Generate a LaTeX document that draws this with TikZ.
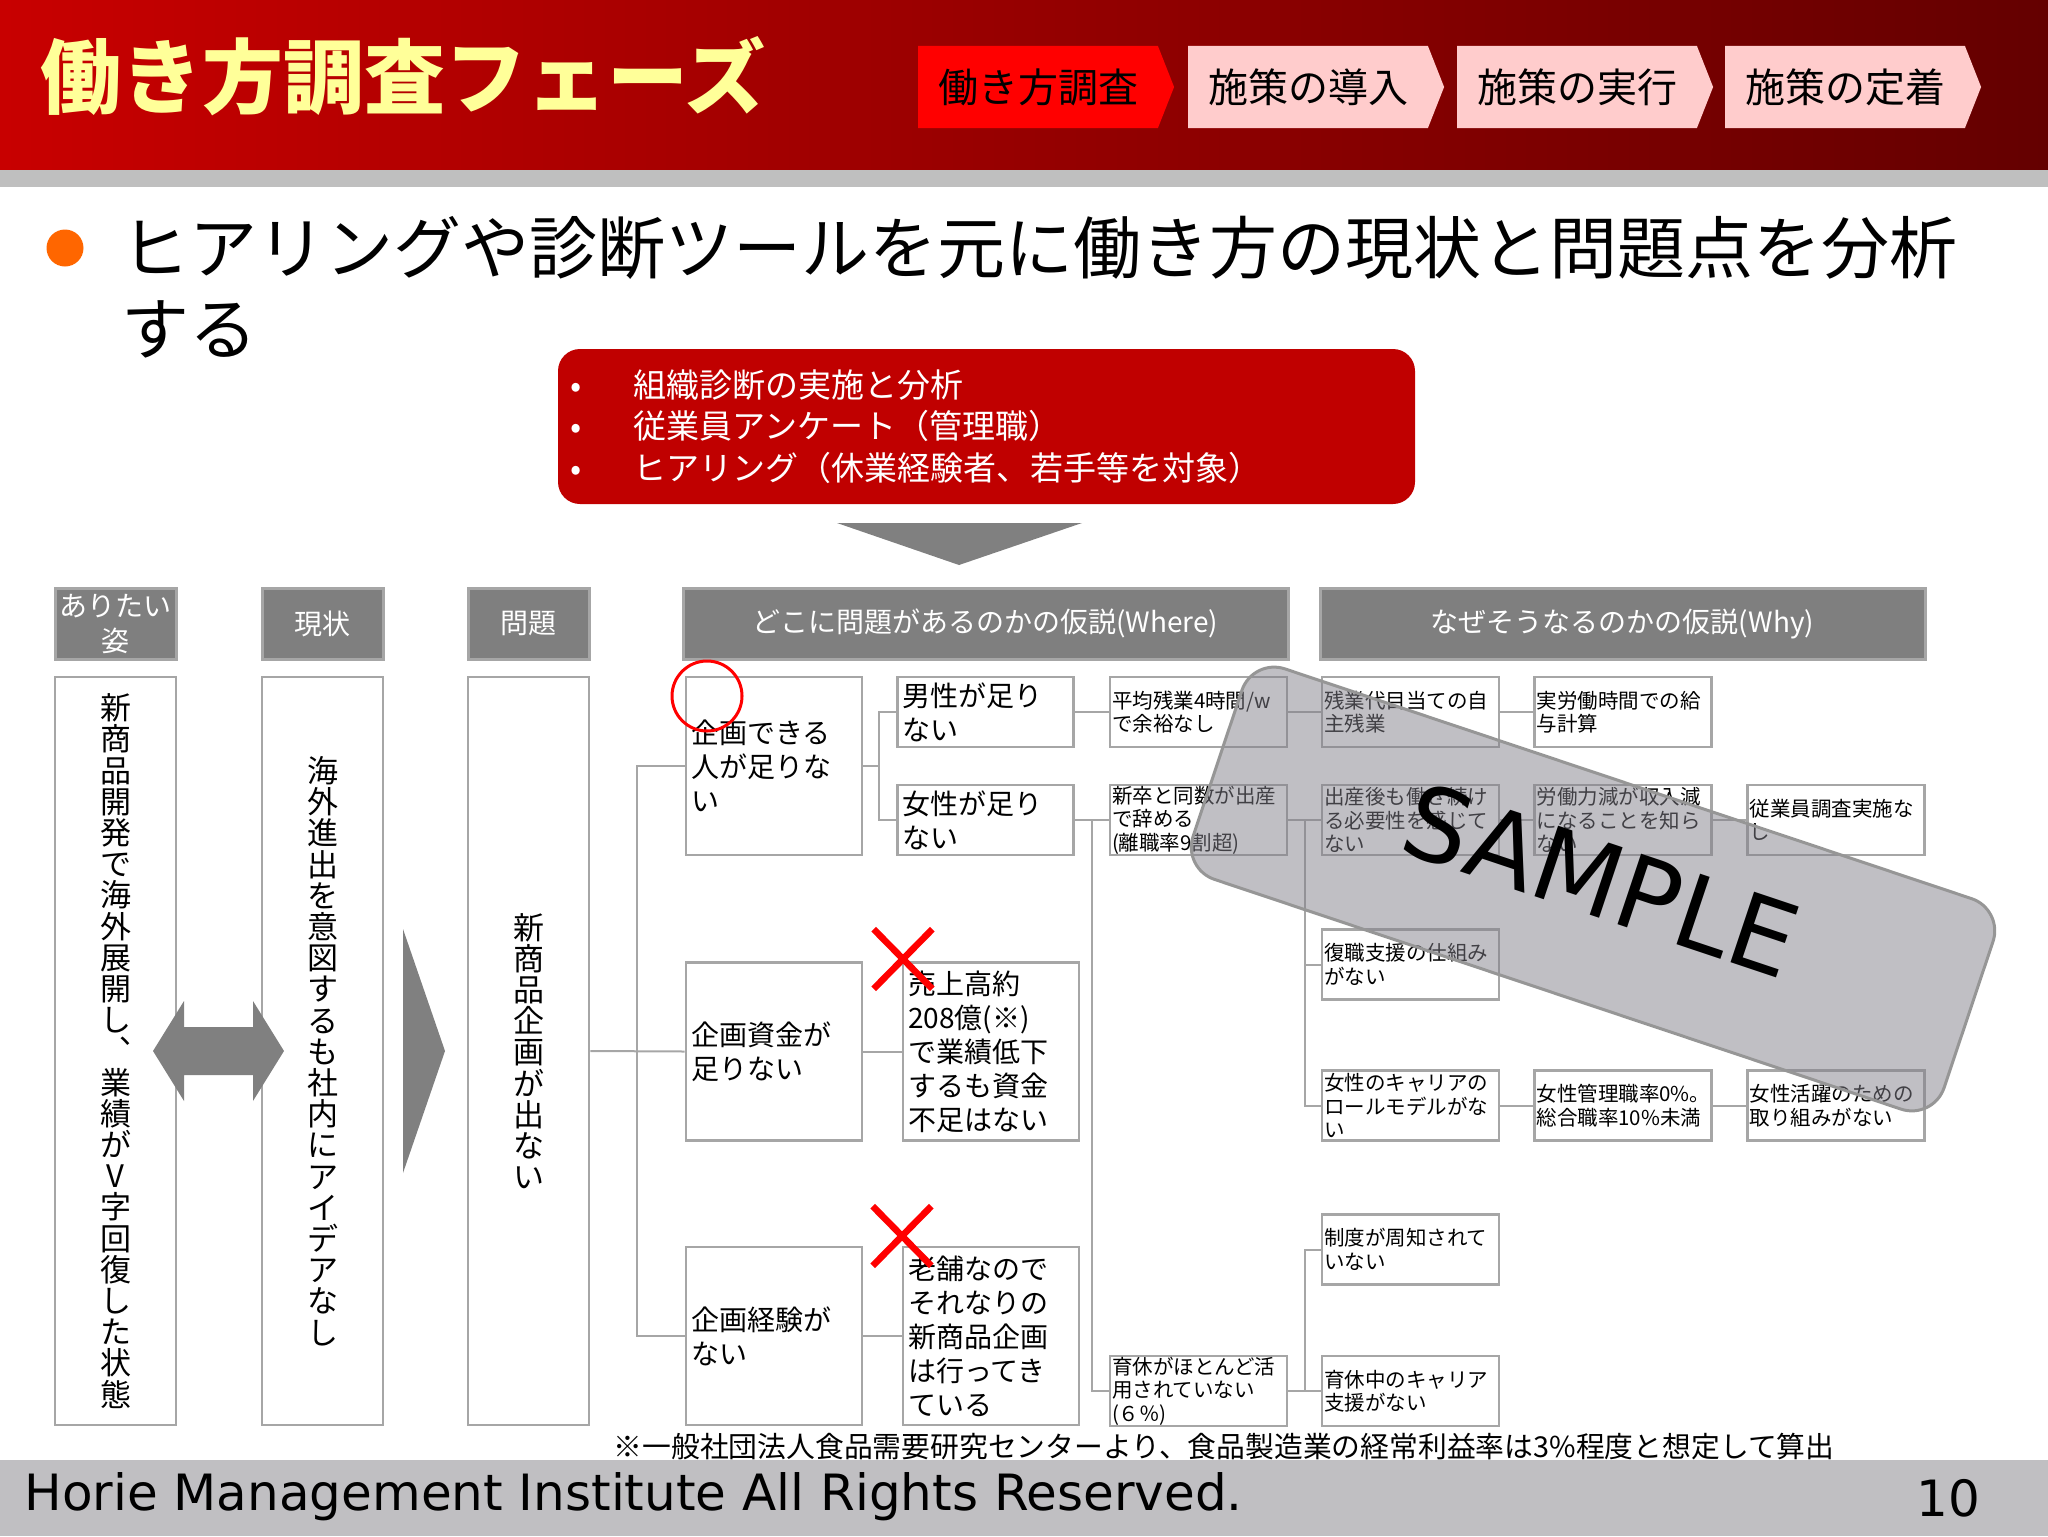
\documentclass[tikz,border=0pt]{standalone}
\usepackage{fontspec}
\setmainfont{Noto Sans CJK JP}
\newfontfamily\latinfont{DejaVu Sans}
\usetikzlibrary{shapes.symbols,shapes.misc}
\newlength{\dpx}
\setlength{\dpx}{0.5pt}
\definecolor{barleft}{RGB}{200,0,0}
\definecolor{barright}{RGB}{100,0,0}
\definecolor{titleyellow}{RGB}{255,255,153}
\definecolor{tabred}{RGB}{255,0,0}
\definecolor{tabpink}{RGB}{255,204,204}
\definecolor{stripgray}{RGB}{191,191,191}
\definecolor{dotorange}{RGB}{255,102,0}
\definecolor{boxred}{RGB}{192,0,0}
\definecolor{headgray}{RGB}{127,127,127}
\definecolor{rimgray}{RGB}{166,166,166}
\definecolor{arrowgray}{RGB}{128,128,128}
\definecolor{footgray}{RGB}{192,191,194}
\definecolor{bandgray}{RGB}{130,128,138}
\definecolor{bandrim}{RGB}{150,150,150}
\begin{document}
\begin{tikzpicture}[x=0.5pt,y=-0.5pt]
     \tikzstyle{tabnode}=[signal, signal to=east, signal pointer angle=137, minimum width=256\dpx, minimum height=82\dpx, inner sep=0pt, font=\fontsize{20}{24}\selectfont]
     \tikzstyle{headnode}=[fill=headgray, draw=rimgray, line width=1.5pt, text=white, inner sep=0pt, minimum height=71\dpx, align=center, font=\fontsize{14}{17.5}\selectfont]
     \tikzstyle{colnode}=[draw=rimgray, line width=1.3pt, minimum width=121\dpx, minimum height=748\dpx, inner sep=0pt, align=center, font=\fontsize{15.5}{15.6}\selectfont]
     \tikzstyle{bignode}=[draw=rimgray, line width=1.3pt, minimum width=176\dpx, minimum height=178\dpx, text width=166\dpx, inner xsep=5\dpx, inner ysep=0pt, align=left, font=\fontsize{14}{17}\selectfont]
     \tikzstyle{smallnode}=[draw=rimgray, line width=1.3pt, minimum width=177\dpx, minimum height=70\dpx, text width=173\dpx, inner xsep=2\dpx, inner ysep=0pt, align=left, font=\fontsize{10.25}{11.75}\selectfont]
     \tikzstyle{link}=[draw=rimgray, line width=1pt]
     \tikzstyle{nomark}=[cross out, draw=tabred, line width=3.3pt, minimum width=52\dpx, minimum height=53\dpx, inner sep=0pt]
     \useasboundingbox (0,0) rectangle (2048,1536);
     \shade[left color=barleft, right color=barright] (0,0) rectangle (2048,170);
     \fill[stripgray] (0,170) rectangle (2048,187);
     \fill[footgray] (0,1460) rectangle (2048,1536);
     \node[anchor=west, inner sep=0pt, text=titleyellow, font=\fontsize{40.5}{42}\selectfont\bfseries] (title) at (40,76) {働き方調査フェーズ};
     \node[tabnode, fill=tabred] (t1) at (1038,87) {働き方調査};
     \node[tabnode, fill=tabpink] (t2) at (1308,87) {施策の導入};
     \node[tabnode, fill=tabpink] (t3) at (1577,87) {施策の実行};
     \node[tabnode, fill=tabpink] (t4) at (1845,87) {施策の定着};
     \node[circle, fill=dotorange, minimum size=37\dpx, inner sep=0pt] (dot) at (65,248) {};
     \node[anchor=west, inner sep=0pt, font=\fontsize{34}{40}\selectfont] (lead) at (121,248) {ヒアリングや診断ツールを元に働き方の現状と問題点を分析};
     \node[anchor=west, inner sep=0pt, font=\fontsize{34}{40}\selectfont] (lead2) at (121,329) {する};
     \node[fill=boxred, rounded corners=11pt, minimum width=857\dpx, minimum height=155\dpx, text width=833\dpx, inner xsep=12\dpx, align=left, text=white, font=\fontsize{16.5}{20.75}\selectfont] (tools) at (986.5,426.5)
      {\makebox[64\dpx][l]{•}組織診断の実施と分析\\ \makebox[64\dpx][l]{•}従業員アンケート（管理職）\\ \makebox[64\dpx][l]{•}ヒアリング（休業経験者、若手等を対象）};
     \fill[arrowgray] (837,523) -- (1082,523) -- (959,565) -- cycle;
     \node[headnode, minimum width=121\dpx] (h1) at (115.5,623.5) {ありたい\\姿};
     \node[headnode, minimum width=121\dpx] (h2) at (322.5,623.5) {現状};
     \node[headnode, minimum width=121\dpx] (h3) at (528.5,623.5) {問題};
     \node[headnode, minimum width=605\dpx] (h4) at (985.5,623.5) {どこに問題があるのかの仮説(Where)};
     \node[headnode, minimum width=605\dpx] (h5) at (1622.5,623.5) {なぜそうなるのかの仮説(Why)};
     \node[colnode] (p1) at (115.5,1051) {新\\商\\品\\開\\発\\で\\海\\外\\展\\開\\し\\︑\\業\\績\\が\\V\\字\\回\\復\\し\\た\\状\\態};
     \node[colnode] (p2) at (322.5,1051) {海\\外\\進\\出\\を\\意\\図\\す\\る\\も\\社\\内\\に\\ア\\イ\\デ\\ア\\な\\し};
     \node[colnode] (p3) at (528.5,1051) {新\\商\\品\\企\\画\\が\\出\\な\\い};
     \fill[arrowgray] (153,1051) -- (184,1001) -- (184,1027) -- (253,1027) -- (253,1001) -- (284,1051)
      -- (253,1101) -- (253,1075) -- (184,1075) -- (184,1101) -- cycle;
     \fill[arrowgray] (403,929) -- (445,1051) -- (403,1173) -- cycle;
     \node[bignode] (a1) at (774,766) {企画できる\\人が足りな\\い};
     \node[bignode] (a2) at (774,1051.5) {企画資金が\\足りない};
     \node[bignode] (a3) at (774,1336) {企画経験が\\ない};
     \node[bignode, minimum height=70\dpx] (b1) at (985.5,712) {男性が足り\\ない};
     \node[bignode, minimum height=70\dpx] (b2) at (985.5,820) {女性が足り\\ない};
     \node[bignode] (b3) at (991,1051.5) {売上高約\\208億(※)\\で業績低下\\するも資金\\不足はない};
     \node[bignode] (b4) at (991,1336) {老舗なので\\それなりの\\新商品企画\\は行ってき\\ている};
     \node[smallnode] (c1) at (1198.5,712) {平均残業4時間/w\\で余裕なし};
     \node[smallnode] (c2) at (1198.5,820) {新卒と同数が出産\\で辞める\\(離職率9割超)};
     \node[smallnode] (c3) at (1198.5,1391) {育休がほとんど活\\用されていない\\(６％)};
     \node[smallnode] (d1) at (1410.5,712) {残業代目当ての自\\主残業};
     \node[smallnode] (d2) at (1410.5,820) {出産後も働き続け\\る必要性を感じて\\ない};
     \node[smallnode] (d3) at (1410.5,964.5) {復職支援の仕組み\\がない};
     \node[smallnode] (d4) at (1410.5,1105.5) {女性のキャリアの\\ロールモデルがな\\い};
     \node[smallnode] (d5) at (1410.5,1249.5) {制度が周知されて\\いない};
     \node[smallnode] (d6) at (1410.5,1391) {育休中のキャリア\\支援がない};
     \node[smallnode] (e1) at (1623,712) {実労働時間での給\\与計算};
     \node[smallnode] (e2) at (1623,820) {労働力減が収入減\\になることを知ら\\ない};
     \node[smallnode] (e4) at (1623,1105.5) {女性管理職率0\%。\\総合職率10\%未満};
     \node[smallnode] (f2) at (1836,820) {従業員調査実施な\\し};
     \node[smallnode] (f4) at (1836,1105.5) {女性活躍のための\\取り組みがない};
     \coordinate (j0) at (637,0);
     \coordinate (j1) at (879,0);
     \coordinate (j2) at (1092,0);
     \coordinate (j3) at (1305,0);
     \draw[link] (p3.east) -- (a2.west);
     \draw[link] (a1.west) -- (a1.west -| j0) -- (a3.west -| j0) -- (a3.west);
     \draw[link] (a1.east) -- (a1.east -| j1);
     \draw[link] (b1.west) -- (b1.west -| j1) -- (b2.west -| j1) -- (b2.west);
     \draw[link] (a2.east) -- (b3.west);
     \draw[link] (a3.east) -- (b4.west);
     \draw[link] (b1.east) -- (c1.west);
     \draw[link] (b2.east) -- (c2.west);
     \draw[link] (c2.west -| j2) -- (c3.west -| j2) -- (c3.west);
     \draw[link] (c1.east) -- (d1.west);
     \draw[link] (c2.east) -- (d2.west);
     \draw[link] (d2.west -| j3) -- (d4.west -| j3) -- (d4.west);
     \draw[link] (d3.west -| j3) -- (d3.west);
     \draw[link] (c3.east) -- (d6.west);
     \draw[link] (d5.west) -- (d5.west -| j3) -- (d6.west -| j3);
     \draw[link] (d1.east) -- (e1.west);
     \draw[link] (d2.east) -- (e2.west);
     \draw[link] (e2.east) -- (f2.west);
     \draw[link] (d4.east) -- (e4.west);
     \draw[link] (e4.east) -- (f4.west);
     \node[circle, draw=red, line width=1.5pt, minimum size=70\dpx, inner sep=0pt] (hit) at (707,696) {};
     \node[nomark] (x1) at (903,959) {};
     \node[nomark] (x2) at (902,1236) {};
     \node[draw=bandrim, line width=1.5pt, fill=bandgray, fill opacity=0.5, rounded corners=17pt, rotate=-18.5, minimum width=792\dpx, minimum height=222\dpx] (band) at (1593,889) {};
     \node[rotate=-18.5, inner sep=0pt, font=\latinfont\fontsize{51}{56}\selectfont] (bandtext) at (1601,880) {SAMPLE};
     \node[font=\fontsize{14.4}{16}\selectfont, inner sep=0pt] (note) at (1224,1447) {※一般社団法人食品需要研究センターより、食品製造業の経常利益率は3\%程度と想定して算出};
     \node[anchor=west, inner sep=0pt, font=\latinfont\fontsize{25}{28}\selectfont] (copy) at (24,1497) {Horie Management Institute All Rights Reserved.};
     \node[inner sep=0pt, font=\latinfont\fontsize{25}{28}\selectfont] (page) at (1948,1498) {10};
    \end{tikzpicture}
\end{document}
